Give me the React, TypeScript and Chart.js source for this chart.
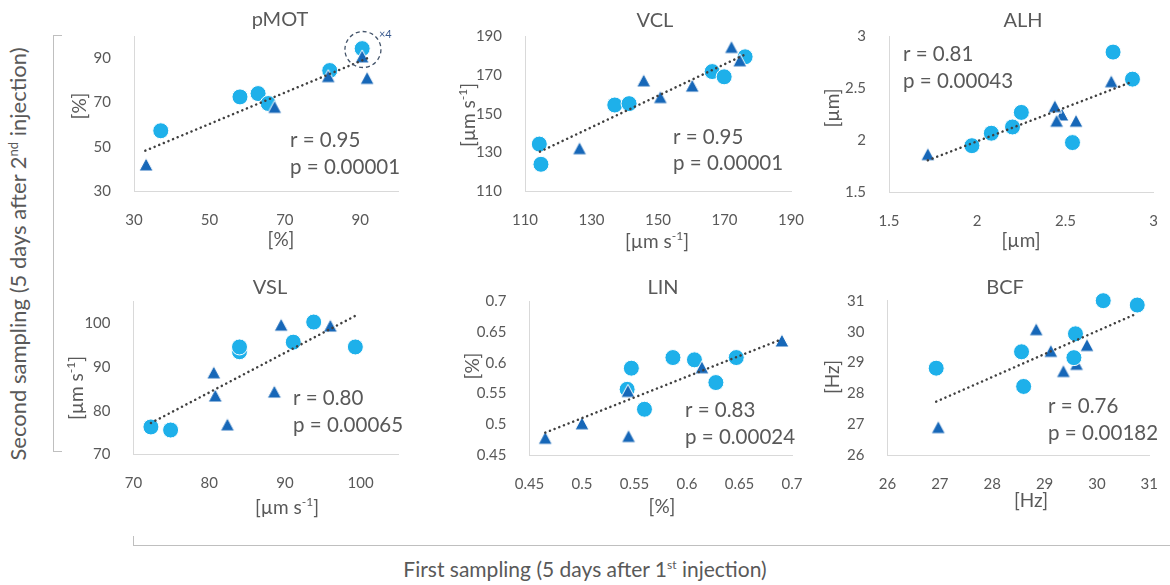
import React, { useEffect, useRef } from 'react';
import { Chart, registerables } from 'chart.js';

Chart.register(...registerables);

const FONT = "Lato, 'Open Sans', 'DejaVu Sans', sans-serif";
const TEXT = '#595959';
const CIRCLE_COLOR = '#1EB0EA';
const TRIANGLE_COLOR = '#1667B8';
const TREND_COLOR = '#404040';
const AXIS_COLOR = '#D9D9D9';
const BRACKET_COLOR = '#BFBFBF';

// ---------------- data ----------------
// pMOT
const pmotCircleX = [37.1, 58.1, 62.9, 65.6, 81.9, 90.5];
const pmotCircleY = [57.2, 72.5, 74.0, 69.5, 84.4, 94.3];
const pmotTriangleX = [33.2, 67.3, 81.5, 90.5, 91.8];
const pmotTriangleY = [42.0, 68.0, 81.9, 90.8, 81.1];
const pmotTrendX = [33.0, 91.8];
const pmotTrendY = [48.2, 89.9];
const pmotRange = [30, 100];
const pmotTicks = [30, 50, 70, 90];
const pmotStats = ['r = 0.95', 'p = 0.00001'];
const pmotCallout = { x: 90.7, y: 93.9, label: '×4' };

// VCL
const vclCircleX = [114.3, 114.8, 137.0, 141.3, 166.3, 169.9, 176.2];
const vclCircleY = [134.4, 124.0, 154.5, 155.2, 171.7, 169.0, 179.3];
const vclTriangleX = [126.4, 145.7, 150.7, 160.3, 172.1, 174.6];
const vclTriangleY = [132.3, 167.2, 158.6, 164.5, 184.4, 177.5];
const vclTrendX = [114.5, 176.2];
const vclTrendY = [130.5, 180.5];
const vclRange = [110, 190];
const vclTicks = [110, 130, 150, 170, 190];
const vclStats = ['r = 0.95', 'p = 0.00001'];

// ALH
const alhCircleX = [1.97, 2.08, 2.2, 2.25, 2.54, 2.77, 2.88];
const alhCircleY = [1.95, 2.07, 2.13, 2.27, 1.98, 2.85, 2.59];
const alhTriangleX = [2.48, 1.72, 2.44, 2.45, 2.56, 2.76];
const alhTriangleY = [2.25, 1.87, 2.33, 2.19, 2.19, 2.57];
const alhTrendX = [1.72, 2.88];
const alhTrendY = [1.81, 2.566];
const alhRange = [1.5, 3];
const alhTicks = [1.5, 2, 2.5, 3];
const alhStats = ['r = 0.81', 'p = 0.00043'];

// VSL
const vslCircleX = [72.3, 74.9, 84.0, 84.0, 91.1, 93.8, 99.3];
const vslCircleY = [76.3, 75.6, 93.5, 94.6, 95.7, 100.3, 94.6];
const vslTriangleX = [80.6, 80.8, 82.4, 88.6, 89.5, 96.0];
const vslTriangleY = [88.8, 83.5, 76.9, 84.4, 99.7, 99.5];
const vslTrendX = [72.3, 99.5];
const vslTrendY = [77.2, 101.9];
const vslRange = [70, 105];
const vslTicks = [70, 80, 90, 100];
const vslStats = ['r = 0.80', 'p = 0.00065'];

// LIN
const linCircleX = [0.543, 0.547, 0.5595, 0.5866, 0.6071, 0.6275, 0.6469];
const linCircleY = [0.557, 0.5914, 0.5245, 0.6087, 0.605, 0.568, 0.6087];
const linTriangleX = [0.465, 0.5, 0.5437, 0.5443, 0.6142, 0.6904];
const linTriangleY = [0.478, 0.5017, 0.5544, 0.481, 0.593, 0.6365];
const linTrendX = [0.465, 0.6904];
const linTrendY = [0.4864, 0.6387];
const linRange = [0.45, 0.7];
const linTicks = [0.45, 0.5, 0.55, 0.6, 0.65, 0.7];
const linStats = ['r = 0.83', 'p = 0.00024'];

// BCF
const bcfCircleX = [26.93, 28.56, 28.6, 29.59, 29.56, 30.12, 30.77];
const bcfCircleY = [28.82, 29.35, 28.23, 29.93, 29.16, 31.0, 30.86];
const bcfTriangleX = [26.97, 28.84, 29.12, 29.36, 29.61, 29.81];
const bcfTriangleY = [26.92, 30.08, 29.38, 28.73, 28.96, 29.57];
const bcfTrendX = [26.93, 30.77];
const bcfTrendY = [27.74, 30.59];
const bcfRange = [26, 31];
const bcfTicks = [26, 27, 28, 29, 30, 31];
const bcfStats = ['r = 0.76', 'p = 0.00182'];

// ---------------- layout / specs ----------------
type Part = { t: string; sup?: boolean };
const UNIT_PCT: Part[] = [{ t: '[%]' }];
const UNIT_SPEED: Part[] = [{ t: '[µm s' }, { t: '-1', sup: true }, { t: ']' }];
const UNIT_UM: Part[] = [{ t: '[µm]' }];
const UNIT_HZ: Part[] = [{ t: '[Hz]' }];

type Spec = {
  title: string;
  canvas: { x: number; y: number; w: number; h: number };
  plot: { l: number; t: number; r: number; b: number };
  cirX: number[]; cirY: number[]; triX: number[]; triY: number[];
  trendX: number[]; trendY: number[];
  range: number[]; ticks: number[];
  stats: string[];
  titlePos: number[]; xTitlePos: number[]; yTitlePos: number[]; statsPos: number[];
  xTitle: Part[]; yTitle: Part[];
  callout?: { x: number; y: number; label: string };
  circlesOnTop?: boolean;
};

const SPECS: Spec[] = [
  {
    title: 'pMOT', canvas: { x: 60, y: 0, w: 385, h: 262 }, plot: { l: 134, t: 36, r: 398, b: 191 },
    cirX: pmotCircleX, cirY: pmotCircleY, triX: pmotTriangleX, triY: pmotTriangleY,
    trendX: pmotTrendX, trendY: pmotTrendY, range: pmotRange, ticks: pmotTicks, stats: pmotStats,
    titlePos: [280, 20], xTitlePos: [281, 240], yTitlePos: [80, 106], statsPos: [290, 140.5],
    xTitle: UNIT_PCT, yTitle: UNIT_PCT, callout: pmotCallout,
  },
  {
    title: 'VCL', canvas: { x: 445, y: 0, w: 385, h: 262 }, plot: { l: 525, t: 36, r: 791, b: 191.5 },
    cirX: vclCircleX, cirY: vclCircleY, triX: vclTriangleX, triY: vclTriangleY,
    trendX: vclTrendX, trendY: vclTrendY, range: vclRange, ticks: vclTicks, stats: vclStats,
    titlePos: [655, 21], xTitlePos: [657, 242], yTitlePos: [469, 115], statsPos: [673, 137],
    xTitle: UNIT_SPEED, yTitle: UNIT_SPEED,
  },
  {
    title: 'ALH', canvas: { x: 815, y: 0, w: 355, h: 262 }, plot: { l: 889, t: 36.5, r: 1157, b: 192.5 },
    cirX: alhCircleX, cirY: alhCircleY, triX: alhTriangleX, triY: alhTriangleY,
    trendX: alhTrendX, trendY: alhTrendY, range: alhRange, ticks: alhTicks, stats: alhStats,
    titlePos: [1023, 21], xTitlePos: [1021, 241], yTitlePos: [833, 108], statsPos: [903, 54.5],
    xTitle: UNIT_UM, yTitle: UNIT_UM,
  },
  {
    title: 'VSL', canvas: { x: 60, y: 268, w: 385, h: 262 }, plot: { l: 133.5, t: 301.5, r: 398.5, b: 454.5 },
    cirX: vslCircleX, cirY: vslCircleY, triX: vslTriangleX, triY: vslTriangleY,
    trendX: vslTrendX, trendY: vslTrendY, range: vslRange, ticks: vslTicks, stats: vslStats,
    titlePos: [270, 288], xTitlePos: [287, 508], yTitlePos: [77, 388], statsPos: [293, 398.5],
    xTitle: UNIT_SPEED, yTitle: UNIT_SPEED,
  },
  {
    title: 'LIN', canvas: { x: 445, y: 268, w: 385, h: 262 }, plot: { l: 529.5, t: 301.5, r: 792, b: 455 },
    cirX: linCircleX, cirY: linCircleY, triX: linTriangleX, triY: linTriangleY,
    trendX: linTrendX, trendY: linTrendY, range: linRange, ticks: linTicks, stats: linStats,
    titlePos: [663, 288], xTitlePos: [662, 507], yTitlePos: [473, 366], statsPos: [685, 410.5],
    xTitle: UNIT_PCT, yTitle: UNIT_PCT,
  },
  {
    title: 'BCF', canvas: { x: 815, y: 268, w: 355, h: 262 }, plot: { l: 887.5, t: 300.7, r: 1155, b: 455.5 },
    cirX: bcfCircleX, cirY: bcfCircleY, triX: bcfTriangleX, triY: bcfTriangleY,
    trendX: bcfTrendX, trendY: bcfTrendY, range: bcfRange, ticks: bcfTicks, stats: bcfStats,
    titlePos: [1005, 288], xTitlePos: [1031, 501], yTitlePos: [833, 377], statsPos: [1048, 406.5],
    xTitle: UNIT_HZ, yTitle: UNIT_HZ, circlesOnTop: true,
  },
];

// ---------------- drawing helpers ----------------
let triangleSprite: HTMLCanvasElement | null = null;
function getTriangleSprite(): HTMLCanvasElement {
  if (triangleSprite) return triangleSprite;
  const c = document.createElement('canvas');
  c.width = 16;
  c.height = 15;
  const g = c.getContext('2d')!;
  g.beginPath();
  g.moveTo(8, 1);
  g.lineTo(15, 14);
  g.lineTo(1, 14);
  g.closePath();
  g.fillStyle = TRIANGLE_COLOR;
  g.fill();
  g.strokeStyle = '#FFFFFF';
  g.lineWidth = 1;
  g.stroke();
  triangleSprite = c;
  return c;
}

function drawRich(ctx: CanvasRenderingContext2D, parts: Part[], x: number, y: number, size: number, align: 'center' | 'left') {
  const base = `${size}px ${FONT}`;
  const small = `${Math.round(size * 0.62)}px ${FONT}`;
  let total = 0;
  const widths = parts.map((p) => {
    ctx.font = p.sup ? small : base;
    const w = ctx.measureText(p.t).width;
    total += w;
    return w;
  });
  let cx = align === 'center' ? x - total / 2 : x;
  ctx.fillStyle = TEXT;
  ctx.textBaseline = 'middle';
  ctx.textAlign = 'left';
  parts.forEach((p, i) => {
    ctx.font = p.sup ? small : base;
    ctx.fillText(p.t, cx, p.sup ? y - size * 0.3 : y);
    cx += widths[i];
  });
}

function drawPanelText(chart: any, s: Spec) {
  const ctx: CanvasRenderingContext2D = chart.ctx;
  const ox = s.canvas.x;
  const oy = s.canvas.y;
  ctx.save();
  drawRich(ctx, [{ t: s.title }], s.titlePos[0] - ox, s.titlePos[1] - oy, 20, 'center');
  drawRich(ctx, s.xTitle, s.xTitlePos[0] - ox, s.xTitlePos[1] - oy, 19, 'center');
  ctx.save();
  ctx.translate(s.yTitlePos[0] - ox, s.yTitlePos[1] - oy);
  ctx.rotate(-Math.PI / 2);
  drawRich(ctx, s.yTitle, 0, 0, 19, 'center');
  ctx.restore();
  s.stats.forEach((line, i) => {
    drawRich(ctx, [{ t: line }], s.statsPos[0] - ox, s.statsPos[1] - oy + i * 26.5, 20.5, 'left');
  });
  if (s.callout) {
    const cx = chart.scales.x.getPixelForValue(s.callout.x);
    const cy = chart.scales.y.getPixelForValue(s.callout.y);
    ctx.beginPath();
    ctx.setLineDash([4, 3]);
    ctx.strokeStyle = '#44546A';
    ctx.lineWidth = 1.3;
    ctx.arc(cx, cy, 18, 0, Math.PI * 2);
    ctx.stroke();
    ctx.setLineDash([]);
    ctx.font = `11px ${FONT}`;
    ctx.fillStyle = '#3A5A8F';
    ctx.textAlign = 'left';
    ctx.textBaseline = 'middle';
    ctx.fillText(s.callout.label, cx + 16, cy - 15);
  }
  ctx.restore();
}

const toPts = (xs: number[], ys: number[]) => xs.map((x, i) => ({ x, y: ys[i] }));

function axis(range: number[], ticks: number[], padding: number, fit: (s: any) => void) {
  return {
    type: 'linear',
    min: range[0],
    max: range[1],
    grid: { display: false },
    border: { display: true, color: AXIS_COLOR, width: 1 },
    ticks: {
      color: TEXT,
      font: { family: FONT, size: 15 },
      padding,
      autoSkip: false,
      maxRotation: 0,
      callback: (v: number) => String(v),
    },
    afterBuildTicks: (a: any) => {
      a.ticks = ticks.map((v) => ({ value: v }));
    },
    afterFit: fit,
  };
}

function buildConfig(s: Spec): any {
  const yW = 70;
  const xH = 40;
  const c = s.canvas;
  const p = s.plot;
  return {
    type: 'scatter',
    data: {
      datasets: [
        {
          label: 'trend',
          data: toPts(s.trendX, s.trendY),
          showLine: true,
          pointRadius: 0,
          borderColor: TREND_COLOR,
          borderWidth: 2.5,
          borderDash: [0.1, 4.9],
          borderCapStyle: 'round',
          fill: false,
          order: 0,
          clip: false,
        },
        {
          label: 'triangles',
          data: toPts(s.triX, s.triY),
          pointStyle: getTriangleSprite(),
          pointRadius: 8,
          backgroundColor: TRIANGLE_COLOR,
          borderColor: '#FFFFFF',
          borderWidth: 1,
          order: s.circlesOnTop ? 2 : 1,
          clip: false,
        },
        {
          label: 'circles',
          data: toPts(s.cirX, s.cirY),
          pointStyle: 'circle',
          pointRadius: 8,
          backgroundColor: CIRCLE_COLOR,
          borderColor: '#FFFFFF',
          borderWidth: 1,
          order: s.circlesOnTop ? 1 : 2,
          clip: false,
        },
      ],
    },
    options: {
      responsive: false,
      maintainAspectRatio: false,
      animation: false,
      events: [],
      layout: {
        padding: {
          left: p.l - c.x - yW,
          right: c.x + c.w - p.r,
          top: p.t - c.y,
          bottom: c.y + c.h - p.b - xH,
        },
      },
      plugins: { legend: { display: false }, tooltip: { enabled: false }, title: { display: false } },
      scales: {
        x: axis(s.range, s.ticks, 12, (a: any) => { a.height = xH; }),
        y: axis(s.range, s.ticks, 15, (a: any) => { a.width = yW; }),
      },
    },
    plugins: [{ id: 'panelText', afterDraw: (chart: any) => drawPanelText(chart, s) }],
  };
}

function Panel({ spec }: { spec: Spec }) {
  const ref = useRef<HTMLCanvasElement>(null);
  useEffect(() => {
    const canvas = ref.current;
    if (!canvas) return;
    const chart = new Chart(canvas, buildConfig(spec));
    let alive = true;
    if ((document as any).fonts && (document as any).fonts.ready) {
      (document as any).fonts.ready.then(() => { if (alive) chart.update('none'); });
    }
    return () => { alive = false; chart.destroy(); };
  }, [spec]);
  const c = spec.canvas;
  return (
    <canvas
      ref={ref}
      width={c.w}
      height={c.h}
      style={{ position: 'absolute', left: c.x, top: c.y, width: c.w, height: c.h }}
    />
  );
}

export default function App() {
  return (
    <div style={{ position: 'fixed', left: 0, top: 0, width: 1170, height: 585, background: '#FFFFFF', overflow: 'hidden', fontFamily: FONT }}>
      {/* left bracket */}
      <div style={{ position: 'absolute', left: 53, top: 35, width: 9, height: 417, borderLeft: `1.5px solid ${BRACKET_COLOR}`, borderTop: `1.5px solid ${BRACKET_COLOR}`, borderBottom: `1.5px solid ${BRACKET_COLOR}`, boxSizing: 'border-box' }} />
      {/* bottom bracket */}
      <div style={{ position: 'absolute', left: 133, top: 536, width: 1040, height: 10, borderLeft: `1.5px solid ${BRACKET_COLOR}`, borderBottom: `1.5px solid ${BRACKET_COLOR}`, boxSizing: 'border-box' }} />
      <div style={{ position: 'absolute', left: 18, top: 254, transform: 'translate(-50%, -50%) rotate(-90deg)', whiteSpace: 'nowrap', fontSize: 22, lineHeight: 1, color: TEXT }}>
        Second sampling (5 days after 2<sup style={{ fontSize: 13 }}>nd</sup> injection)
      </div>
      <div style={{ position: 'absolute', left: 585, top: 568, transform: 'translate(-50%, -50%)', whiteSpace: 'nowrap', fontSize: 21, lineHeight: 1, color: TEXT }}>
        First sampling (5 days after 1<sup style={{ fontSize: 12 }}>st</sup> injection)
      </div>
      {SPECS.map((s) => (
        <Panel key={s.title} spec={s} />
      ))}
    </div>
  );
}
